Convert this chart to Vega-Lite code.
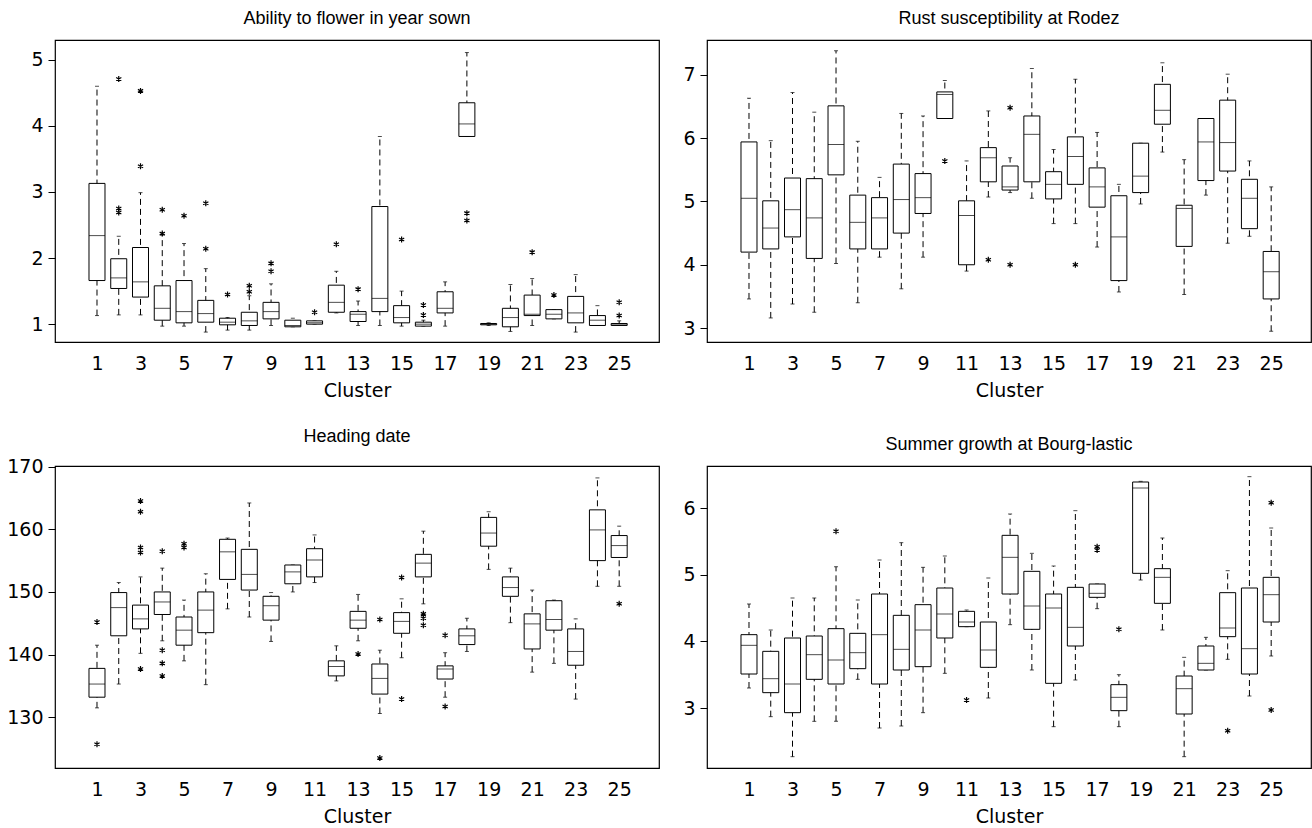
{
  "$schema": "https://vega.github.io/schema/vega-lite/v6.json",
  "background": "white",
  "padding": {"left": 6, "top": 9, "right": 0, "bottom": 0},
  "columns": 2,
  "spacing": {"row": 26, "column": 22},
  "resolve": {"scale": {"x": "independent", "y": "independent"}},
  "config": {
    "font": "DejaVu Sans",
    "view": {"stroke": "black", "strokeWidth": 1.2},
    "title": {"fontSize": 18, "fontWeight": "normal", "color": "black", "offset": 12, "font": "Liberation Sans"},
    "axis": {"grid": false, "domain": false, "labelFont": "DejaVu Sans", "labelFontSize": 19, "labelColor": "black", "tickColor": "black", "titleFont": "DejaVu Sans", "titleFontSize": 19, "titleFontWeight": "normal", "titleColor": "black"},
    "axisX": {"ticks": false, "labelPadding": 12, "titlePadding": 8, "labelFlush": false},
    "axisY": {"tickSize": 7, "labelPadding": 5, "title": null}
  },
  "datasets": {
    "flower": [
      {"c":1,"lo":1.13,"q1":1.66,"med":2.34,"q3":3.13,"hi":4.60},
      {"c":2,"lo":1.14,"q1":1.54,"med":1.70,"q3":1.99,"hi":2.33},
      {"c":3,"lo":1.14,"q1":1.41,"med":1.64,"q3":2.16,"hi":2.99},
      {"c":4,"lo":0.97,"q1":1.06,"med":1.24,"q3":1.58,"hi":2.35},
      {"c":5,"lo":0.97,"q1":1.02,"med":1.19,"q3":1.66,"hi":2.22},
      {"c":6,"lo":0.88,"q1":1.03,"med":1.16,"q3":1.36,"hi":1.84},
      {"c":7,"lo":0.91,"q1":0.99,"med":1.03,"q3":1.09,"hi":1.10},
      {"c":8,"lo":0.91,"q1":0.98,"med":1.05,"q3":1.18,"hi":1.43},
      {"c":9,"lo":0.98,"q1":1.08,"med":1.19,"q3":1.33,"hi":1.61},
      {"c":10,"lo":0.96,"q1":0.96,"med":0.98,"q3":1.06,"hi":1.09},
      {"c":11,"lo":1.0,"q1":1.0,"med":1.02,"q3":1.05,"hi":1.05},
      {"c":12,"lo":1.17,"q1":1.18,"med":1.33,"q3":1.59,"hi":1.80},
      {"c":13,"lo":0.98,"q1":1.04,"med":1.15,"q3":1.19,"hi":1.35},
      {"c":14,"lo":0.98,"q1":1.19,"med":1.39,"q3":2.78,"hi":3.84},
      {"c":15,"lo":0.97,"q1":1.02,"med":1.10,"q3":1.28,"hi":1.50},
      {"c":16,"lo":0.97,"q1":0.97,"med":1.0,"q3":1.03,"hi":1.06},
      {"c":17,"lo":0.97,"q1":1.17,"med":1.24,"q3":1.49,"hi":1.64},
      {"c":18,"lo":3.84,"q1":3.84,"med":4.03,"q3":4.35,"hi":5.11},
      {"c":19,"lo":0.98,"q1":0.99,"med":1.0,"q3":1.01,"hi":1.02},
      {"c":20,"lo":0.89,"q1":0.96,"med":1.10,"q3":1.24,"hi":1.60},
      {"c":21,"lo":0.98,"q1":1.13,"med":1.15,"q3":1.44,"hi":1.69},
      {"c":22,"lo":1.08,"q1":1.08,"med":1.15,"q3":1.22,"hi":1.22},
      {"c":23,"lo":0.88,"q1":1.02,"med":1.17,"q3":1.42,"hi":1.75},
      {"c":24,"lo":0.98,"q1":0.98,"med":1.06,"q3":1.13,"hi":1.28},
      {"c":25,"lo":0.98,"q1":0.98,"med":1.0,"q3":1.01,"hi":1.05}
    ],
    "flower_out": [
      {"c":2,"v":4.71},{"c":2,"v":2.75},{"c":2,"v":2.69},{"c":3,"v":4.53},{"c":3,"v":3.39},
      {"c":4,"v":2.73},{"c":4,"v":2.37},{"c":5,"v":2.64},{"c":6,"v":2.83},{"c":6,"v":2.14},
      {"c":7,"v":1.45},{"c":8,"v":1.58},{"c":8,"v":1.49},{"c":9,"v":1.92},{"c":9,"v":1.80},
      {"c":11,"v":1.18},{"c":12,"v":2.21},{"c":13,"v":1.53},{"c":15,"v":2.28},{"c":16,"v":1.29},
      {"c":16,"v":1.14},{"c":18,"v":2.68},{"c":18,"v":2.57},{"c":21,"v":2.09},{"c":22,"v":1.44},
      {"c":25,"v":1.33},{"c":25,"v":1.13}
    ],
    "rust": [
      {"c":1,"lo":3.46,"q1":4.20,"med":5.05,"q3":5.94,"hi":6.63},
      {"c":2,"lo":3.16,"q1":4.25,"med":4.58,"q3":5.01,"hi":5.96},
      {"c":3,"lo":3.38,"q1":4.44,"med":4.87,"q3":5.37,"hi":6.72},
      {"c":4,"lo":3.25,"q1":4.10,"med":4.74,"q3":5.36,"hi":6.41},
      {"c":5,"lo":4.02,"q1":5.42,"med":5.90,"q3":6.51,"hi":7.38},
      {"c":6,"lo":3.40,"q1":4.25,"med":4.67,"q3":5.10,"hi":5.95},
      {"c":7,"lo":4.12,"q1":4.25,"med":4.74,"q3":5.06,"hi":5.38},
      {"c":8,"lo":3.62,"q1":4.50,"med":5.03,"q3":5.59,"hi":6.39},
      {"c":9,"lo":4.12,"q1":4.81,"med":5.06,"q3":5.44,"hi":6.35},
      {"c":10,"lo":6.31,"q1":6.31,"med":6.69,"q3":6.73,"hi":6.91},
      {"c":11,"lo":3.90,"q1":4.00,"med":4.78,"q3":5.01,"hi":5.64},
      {"c":12,"lo":5.07,"q1":5.31,"med":5.69,"q3":5.85,"hi":6.43},
      {"c":13,"lo":5.14,"q1":5.18,"med":5.23,"q3":5.56,"hi":5.69},
      {"c":14,"lo":5.05,"q1":5.31,"med":6.06,"q3":6.35,"hi":7.10},
      {"c":15,"lo":4.65,"q1":5.04,"med":5.27,"q3":5.47,"hi":5.82},
      {"c":16,"lo":4.65,"q1":5.27,"med":5.71,"q3":6.02,"hi":6.93},
      {"c":17,"lo":4.28,"q1":4.91,"med":5.23,"q3":5.53,"hi":6.09},
      {"c":18,"lo":3.57,"q1":3.75,"med":4.44,"q3":5.09,"hi":5.27},
      {"c":19,"lo":4.96,"q1":5.14,"med":5.40,"q3":5.92,"hi":5.92},
      {"c":20,"lo":5.78,"q1":6.22,"med":6.44,"q3":6.85,"hi":7.19},
      {"c":21,"lo":3.53,"q1":4.29,"med":4.89,"q3":4.94,"hi":5.66},
      {"c":22,"lo":5.10,"q1":5.33,"med":5.94,"q3":6.31,"hi":6.31},
      {"c":23,"lo":4.34,"q1":5.48,"med":5.93,"q3":6.60,"hi":7.01},
      {"c":24,"lo":4.45,"q1":4.57,"med":5.05,"q3":5.35,"hi":5.64},
      {"c":25,"lo":2.95,"q1":3.46,"med":3.89,"q3":4.21,"hi":5.23}
    ],
    "rust_out": [
      {"c":10,"v":5.64},{"c":12,"v":4.08},{"c":13,"v":6.48},{"c":13,"v":4.00},{"c":16,"v":4.00}
    ],
    "heading": [
      {"c":1,"lo":131.5,"q1":133.2,"med":135.3,"q3":137.8,"hi":141.5},
      {"c":2,"lo":135.3,"q1":143.0,"med":147.5,"q3":149.9,"hi":151.5},
      {"c":3,"lo":140.2,"q1":144.1,"med":145.7,"q3":147.9,"hi":152.4},
      {"c":4,"lo":142.2,"q1":146.4,"med":148.4,"q3":150.0,"hi":153.8},
      {"c":5,"lo":139.0,"q1":141.5,"med":143.9,"q3":146.0,"hi":148.7},
      {"c":6,"lo":135.2,"q1":143.5,"med":147.1,"q3":150.0,"hi":152.9},
      {"c":7,"lo":147.3,"q1":152.0,"med":156.4,"q3":158.4,"hi":158.6},
      {"c":8,"lo":146.0,"q1":150.3,"med":152.8,"q3":156.8,"hi":164.2},
      {"c":9,"lo":142.1,"q1":145.5,"med":147.8,"q3":149.3,"hi":149.9},
      {"c":10,"lo":150.0,"q1":151.3,"med":153.2,"q3":154.3,"hi":154.3},
      {"c":11,"lo":151.5,"q1":152.4,"med":155.1,"q3":156.9,"hi":159.1},
      {"c":12,"lo":135.8,"q1":136.6,"med":138.1,"q3":139.0,"hi":141.4},
      {"c":13,"lo":142.2,"q1":144.2,"med":145.5,"q3":146.9,"hi":149.6},
      {"c":14,"lo":130.6,"q1":133.7,"med":136.2,"q3":138.5,"hi":140.7},
      {"c":15,"lo":139.5,"q1":143.4,"med":145.3,"q3":146.7,"hi":148.9},
      {"c":16,"lo":148.1,"q1":152.4,"med":154.6,"q3":156.0,"hi":159.7},
      {"c":17,"lo":133.2,"q1":136.1,"med":137.7,"q3":138.2,"hi":140.3},
      {"c":18,"lo":140.5,"q1":141.6,"med":143.0,"q3":144.1,"hi":145.8},
      {"c":19,"lo":153.6,"q1":157.3,"med":159.4,"q3":161.9,"hi":162.8},
      {"c":20,"lo":145.1,"q1":149.3,"med":150.7,"q3":152.4,"hi":153.8},
      {"c":21,"lo":137.2,"q1":140.9,"med":144.9,"q3":146.5,"hi":150.3},
      {"c":22,"lo":138.6,"q1":143.9,"med":145.6,"q3":148.6,"hi":148.7},
      {"c":23,"lo":132.9,"q1":138.3,"med":140.5,"q3":144.1,"hi":145.7},
      {"c":24,"lo":150.9,"q1":155.0,"med":159.9,"q3":163.1,"hi":168.2},
      {"c":25,"lo":150.9,"q1":155.5,"med":157.4,"q3":159.0,"hi":160.5}
    ],
    "heading_out": [
      {"c":1,"v":145.2},{"c":1,"v":125.7},{"c":3,"v":164.5},{"c":3,"v":162.8},{"c":3,"v":157.1},
      {"c":3,"v":156.3},{"c":3,"v":137.7},{"c":4,"v":156.5},{"c":4,"v":140.7},{"c":4,"v":138.6},
      {"c":4,"v":136.6},{"c":5,"v":157.7},{"c":5,"v":157.1},{"c":13,"v":140.1},{"c":14,"v":145.6},
      {"c":14,"v":123.5},{"c":15,"v":152.3},{"c":15,"v":132.9},{"c":16,"v":146.5},{"c":16,"v":145.8},
      {"c":16,"v":144.7},{"c":17,"v":143.1},{"c":17,"v":131.7},{"c":25,"v":148.1}
    ],
    "summer": [
      {"c":1,"lo":3.30,"q1":3.51,"med":3.94,"q3":4.10,"hi":4.56},
      {"c":2,"lo":2.87,"q1":3.23,"med":3.44,"q3":3.85,"hi":4.17},
      {"c":3,"lo":2.27,"q1":2.93,"med":3.36,"q3":4.05,"hi":4.65},
      {"c":4,"lo":2.80,"q1":3.43,"med":3.80,"q3":4.08,"hi":4.65},
      {"c":5,"lo":2.80,"q1":3.36,"med":3.72,"q3":4.19,"hi":5.12},
      {"c":6,"lo":3.43,"q1":3.59,"med":3.83,"q3":4.12,"hi":4.62},
      {"c":7,"lo":2.70,"q1":3.36,"med":4.10,"q3":4.71,"hi":5.22},
      {"c":8,"lo":2.73,"q1":3.57,"med":3.88,"q3":4.39,"hi":5.48},
      {"c":9,"lo":2.93,"q1":3.62,"med":4.17,"q3":4.55,"hi":5.11},
      {"c":10,"lo":3.52,"q1":4.05,"med":4.41,"q3":4.80,"hi":5.28},
      {"c":11,"lo":4.22,"q1":4.22,"med":4.29,"q3":4.45,"hi":4.47},
      {"c":12,"lo":3.15,"q1":3.61,"med":3.87,"q3":4.29,"hi":4.95},
      {"c":13,"lo":4.25,"q1":4.71,"med":5.26,"q3":5.59,"hi":5.91},
      {"c":14,"lo":3.57,"q1":4.18,"med":4.53,"q3":5.05,"hi":5.32},
      {"c":15,"lo":2.72,"q1":3.37,"med":4.50,"q3":4.71,"hi":5.13},
      {"c":16,"lo":3.42,"q1":3.93,"med":4.21,"q3":4.81,"hi":5.96},
      {"c":17,"lo":4.49,"q1":4.66,"med":4.72,"q3":4.86,"hi":4.86},
      {"c":18,"lo":2.72,"q1":2.96,"med":3.16,"q3":3.35,"hi":3.50},
      {"c":19,"lo":4.92,"q1":5.02,"med":6.30,"q3":6.39,"hi":6.40},
      {"c":20,"lo":4.17,"q1":4.57,"med":4.96,"q3":5.09,"hi":5.55},
      {"c":21,"lo":2.27,"q1":2.91,"med":3.29,"q3":3.48,"hi":3.76},
      {"c":22,"lo":3.57,"q1":3.57,"med":3.67,"q3":3.93,"hi":4.06},
      {"c":23,"lo":3.73,"q1":4.07,"med":4.20,"q3":4.73,"hi":5.06},
      {"c":24,"lo":3.18,"q1":3.51,"med":3.89,"q3":4.80,"hi":6.47},
      {"c":25,"lo":3.78,"q1":4.29,"med":4.70,"q3":4.96,"hi":5.70}
    ],
    "summer_out": [
      {"c":5,"v":5.65},{"c":11,"v":3.12},{"c":17,"v":5.42},{"c":17,"v":5.37},{"c":18,"v":4.18},
      {"c":23,"v":2.66},{"c":25,"v":6.08},{"c":25,"v":2.97}
    ]
  },
  "concat": [
    {
      "title": "Ability to flower in year sown",
      "width": 604, "height": 302,
      "data": {"name": "flower"},
      "layer": [
        {"mark": {"type": "rule", "color": "black", "strokeWidth": 1, "strokeDash": [6, 4]},
         "encoding": {
           "x": {"field": "c", "type": "quantitative", "scale": {"domain": [-0.7, 26.6], "nice": false, "zero": false}, "axis": {"title": "Cluster", "values": [1,3,5,7,9,11,13,15,17,19,21,23,25], "format": "d"}},
           "y": {"field": "lo", "type": "quantitative", "scale": {"domain": [0.73, 5.3], "nice": false, "zero": false}, "axis": {"values": [1, 2, 3, 4, 5], "format": "d"}},
           "y2": {"field": "hi"}}},
        {"mark": {"type": "tick", "orient": "horizontal", "size": 4, "thickness": 1, "color": "black"},
         "encoding": {"x": {"field": "c", "type": "quantitative"}, "y": {"field": "lo", "type": "quantitative"}}},
        {"mark": {"type": "tick", "orient": "horizontal", "size": 4, "thickness": 1, "color": "black"},
         "encoding": {"x": {"field": "c", "type": "quantitative"}, "y": {"field": "hi", "type": "quantitative"}}},
        {"mark": {"type": "bar", "orient": "vertical", "size": 16, "fill": "white", "stroke": "black", "strokeWidth": 1},
         "encoding": {"x": {"field": "c", "type": "quantitative"}, "y": {"field": "q1", "type": "quantitative"}, "y2": {"field": "q3"}}},
        {"mark": {"type": "tick", "orient": "horizontal", "size": 16, "thickness": 1, "color": "black"},
         "encoding": {"x": {"field": "c", "type": "quantitative"}, "y": {"field": "med", "type": "quantitative"}}},
        {"data": {"name": "flower_out"},
         "mark": {"type": "point", "shape": "M0,-1L0,1M-0.87,-0.5L0.87,0.5M-0.87,0.5L0.87,-0.5", "size": 36, "filled": false, "color": "black", "strokeWidth": 1.2, "opacity": 1},
         "encoding": {"x": {"field": "c", "type": "quantitative"}, "y": {"field": "v", "type": "quantitative"}}}
      ]
    },
    {
      "title": "Rust susceptibility at Rodez",
      "width": 604, "height": 302,
      "data": {"name": "rust"},
      "layer": [
        {"mark": {"type": "rule", "color": "black", "strokeWidth": 1, "strokeDash": [6, 4]},
         "encoding": {
           "x": {"field": "c", "type": "quantitative", "scale": {"domain": [-0.7, 26.6], "nice": false, "zero": false}, "axis": {"title": "Cluster", "values": [1,3,5,7,9,11,13,15,17,19,21,23,25], "format": "d"}},
           "y": {"field": "lo", "type": "quantitative", "scale": {"domain": [2.78, 7.55], "nice": false, "zero": false}, "axis": {"values": [3, 4, 5, 6, 7], "format": "d"}},
           "y2": {"field": "hi"}}},
        {"mark": {"type": "tick", "orient": "horizontal", "size": 4, "thickness": 1, "color": "black"},
         "encoding": {"x": {"field": "c", "type": "quantitative"}, "y": {"field": "lo", "type": "quantitative"}}},
        {"mark": {"type": "tick", "orient": "horizontal", "size": 4, "thickness": 1, "color": "black"},
         "encoding": {"x": {"field": "c", "type": "quantitative"}, "y": {"field": "hi", "type": "quantitative"}}},
        {"mark": {"type": "bar", "orient": "vertical", "size": 16, "fill": "white", "stroke": "black", "strokeWidth": 1},
         "encoding": {"x": {"field": "c", "type": "quantitative"}, "y": {"field": "q1", "type": "quantitative"}, "y2": {"field": "q3"}}},
        {"mark": {"type": "tick", "orient": "horizontal", "size": 16, "thickness": 1, "color": "black"},
         "encoding": {"x": {"field": "c", "type": "quantitative"}, "y": {"field": "med", "type": "quantitative"}}},
        {"data": {"name": "rust_out"},
         "mark": {"type": "point", "shape": "M0,-1L0,1M-0.87,-0.5L0.87,0.5M-0.87,0.5L0.87,-0.5", "size": 36, "filled": false, "color": "black", "strokeWidth": 1.2, "opacity": 1},
         "encoding": {"x": {"field": "c", "type": "quantitative"}, "y": {"field": "v", "type": "quantitative"}}}
      ]
    },
    {
      "title": "Heading date",
      "width": 604, "height": 302,
      "data": {"name": "heading"},
      "layer": [
        {"mark": {"type": "rule", "color": "black", "strokeWidth": 1, "strokeDash": [6, 4]},
         "encoding": {
           "x": {"field": "c", "type": "quantitative", "scale": {"domain": [-0.7, 26.6], "nice": false, "zero": false}, "axis": {"title": "Cluster", "values": [1,3,5,7,9,11,13,15,17,19,21,23,25], "format": "d"}},
           "y": {"field": "lo", "type": "quantitative", "scale": {"domain": [121.9, 170.1], "nice": false, "zero": false}, "axis": {"values": [130, 140, 150, 160, 170], "format": "d"}},
           "y2": {"field": "hi"}}},
        {"mark": {"type": "tick", "orient": "horizontal", "size": 4, "thickness": 1, "color": "black"},
         "encoding": {"x": {"field": "c", "type": "quantitative"}, "y": {"field": "lo", "type": "quantitative"}}},
        {"mark": {"type": "tick", "orient": "horizontal", "size": 4, "thickness": 1, "color": "black"},
         "encoding": {"x": {"field": "c", "type": "quantitative"}, "y": {"field": "hi", "type": "quantitative"}}},
        {"mark": {"type": "bar", "orient": "vertical", "size": 16, "fill": "white", "stroke": "black", "strokeWidth": 1},
         "encoding": {"x": {"field": "c", "type": "quantitative"}, "y": {"field": "q1", "type": "quantitative"}, "y2": {"field": "q3"}}},
        {"mark": {"type": "tick", "orient": "horizontal", "size": 16, "thickness": 1, "color": "black"},
         "encoding": {"x": {"field": "c", "type": "quantitative"}, "y": {"field": "med", "type": "quantitative"}}},
        {"data": {"name": "heading_out"},
         "mark": {"type": "point", "shape": "M0,-1L0,1M-0.87,-0.5L0.87,0.5M-0.87,0.5L0.87,-0.5", "size": 36, "filled": false, "color": "black", "strokeWidth": 1.2, "opacity": 1},
         "encoding": {"x": {"field": "c", "type": "quantitative"}, "y": {"field": "v", "type": "quantitative"}}}
      ]
    },
    {
      "title": "Summer growth at Bourg-lastic",
      "width": 604, "height": 302,
      "data": {"name": "summer"},
      "layer": [
        {"mark": {"type": "rule", "color": "black", "strokeWidth": 1, "strokeDash": [6, 4]},
         "encoding": {
           "x": {"field": "c", "type": "quantitative", "scale": {"domain": [-0.7, 26.6], "nice": false, "zero": false}, "axis": {"title": "Cluster", "values": [1,3,5,7,9,11,13,15,17,19,21,23,25], "format": "d"}},
           "y": {"field": "lo", "type": "quantitative", "scale": {"domain": [2.1, 6.63], "nice": false, "zero": false}, "axis": {"values": [3, 4, 5, 6], "format": "d"}},
           "y2": {"field": "hi"}}},
        {"mark": {"type": "tick", "orient": "horizontal", "size": 4, "thickness": 1, "color": "black"},
         "encoding": {"x": {"field": "c", "type": "quantitative"}, "y": {"field": "lo", "type": "quantitative"}}},
        {"mark": {"type": "tick", "orient": "horizontal", "size": 4, "thickness": 1, "color": "black"},
         "encoding": {"x": {"field": "c", "type": "quantitative"}, "y": {"field": "hi", "type": "quantitative"}}},
        {"mark": {"type": "bar", "orient": "vertical", "size": 16, "fill": "white", "stroke": "black", "strokeWidth": 1},
         "encoding": {"x": {"field": "c", "type": "quantitative"}, "y": {"field": "q1", "type": "quantitative"}, "y2": {"field": "q3"}}},
        {"mark": {"type": "tick", "orient": "horizontal", "size": 16, "thickness": 1, "color": "black"},
         "encoding": {"x": {"field": "c", "type": "quantitative"}, "y": {"field": "med", "type": "quantitative"}}},
        {"data": {"name": "summer_out"},
         "mark": {"type": "point", "shape": "M0,-1L0,1M-0.87,-0.5L0.87,0.5M-0.87,0.5L0.87,-0.5", "size": 36, "filled": false, "color": "black", "strokeWidth": 1.2, "opacity": 1},
         "encoding": {"x": {"field": "c", "type": "quantitative"}, "y": {"field": "v", "type": "quantitative"}}}
      ]
    }
  ]
}
